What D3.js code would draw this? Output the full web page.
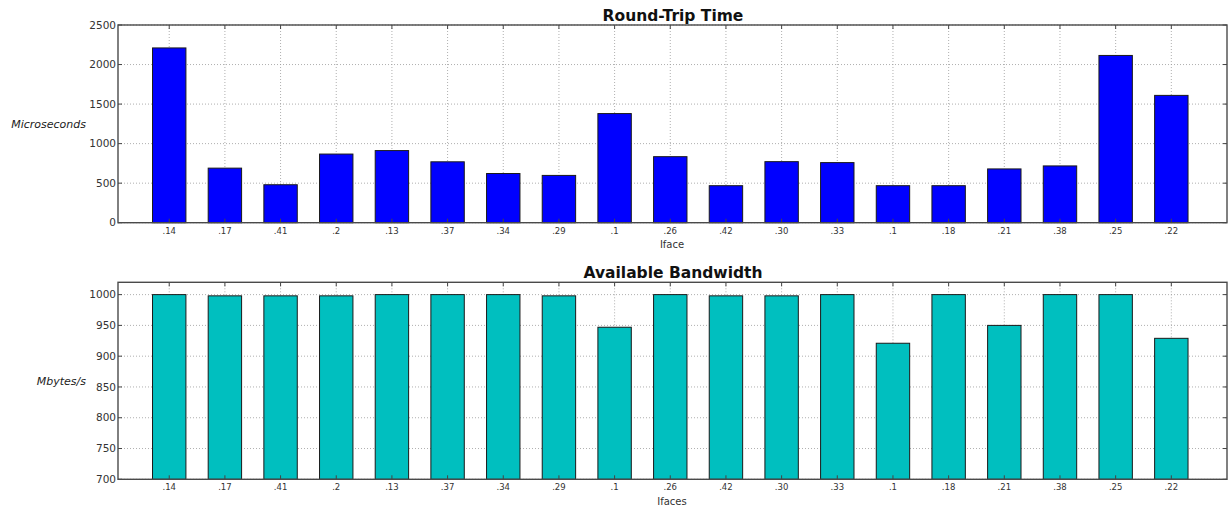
<!DOCTYPE html>
<html>
<head>
<meta charset="utf-8">
<script src="https://cdn.jsdelivr.net/npm/d3@7"></script>
<style>
  html, body { margin: 0; padding: 0; background: #fff; }
  svg { display: block; font-family: "DejaVu Sans", sans-serif; }
</style>
</head>
<body>
<svg id="chart" width="1229" height="508"></svg>
<script>
// Interface labels shared by both panels
const ifaces = [".14", ".17", ".41", ".2", ".13", ".37", ".34", ".29", ".1", ".26",
                ".42", ".30", ".33", ".1", ".18", ".21", ".38", ".25", ".22"];

// Round-trip time per interface (microseconds)
const rttValues = [2210, 690, 480, 868, 912, 770, 622, 598, 1380, 835,
                   468, 772, 760, 468, 468, 680, 718, 2115, 1610];

// Available bandwidth per interface (Mbytes/s)
const bwValues = [1000, 998, 998, 998, 1000, 1000, 1000, 998, 947, 1000,
                  998, 998, 1000, 921, 1000, 950, 1000, 1000, 929];

const rttTicks = [0, 500, 1000, 1500, 2000, 2500];
const bwTicks = [700, 750, 800, 850, 900, 950, 1000];

const svg = d3.select("#chart");

const left = 118, right = 1227;
const x = d3.scaleLinear().domain([-0.92, 19.0]).range([left, right]);
const barW = x(0.6) - x(0);

function panel(cfg) {
  const y = d3.scaleLinear().domain(cfg.domain).range([cfg.bottom, cfg.top]);
  const g = svg.append("g");
  const idx = d3.range(cfg.values.length);

  // dotted grid
  g.append("g").selectAll("line.vg").data(idx).join("line")
    .attr("x1", i => x(i)).attr("x2", i => x(i))
    .attr("y1", cfg.top).attr("y2", cfg.bottom)
    .attr("stroke", "#9a9a9a").attr("stroke-width", 0.8)
    .attr("stroke-dasharray", "1,2");
  g.append("g").selectAll("line.hg").data(cfg.ticks).join("line")
    .attr("x1", left).attr("x2", right)
    .attr("y1", d => y(d)).attr("y2", d => y(d))
    .attr("stroke", "#9a9a9a").attr("stroke-width", 0.8)
    .attr("stroke-dasharray", "1,2");

  // bars
  g.append("g").selectAll("rect").data(cfg.values).join("rect")
    .attr("x", (d, i) => x(i) - barW / 2)
    .attr("width", barW)
    .attr("y", d => y(d))
    .attr("height", d => cfg.bottom - y(d))
    .attr("fill", cfg.color)
    .attr("stroke", "#1a1a1a").attr("stroke-width", 1);

  // inward tick marks on all four sides
  const tl = 4;
  const tk = g.append("g").attr("stroke", "#444").attr("stroke-width", 1);
  idx.forEach(i => {
    tk.append("line").attr("x1", x(i)).attr("x2", x(i)).attr("y1", cfg.bottom).attr("y2", cfg.bottom - tl);
    tk.append("line").attr("x1", x(i)).attr("x2", x(i)).attr("y1", cfg.top).attr("y2", cfg.top + tl);
  });
  cfg.ticks.forEach(t => {
    tk.append("line").attr("x1", left).attr("x2", left + tl).attr("y1", y(t)).attr("y2", y(t));
    tk.append("line").attr("x1", right).attr("x2", right - tl).attr("y1", y(t)).attr("y2", y(t));
  });

  // frame
  g.append("rect")
    .attr("x", left).attr("y", cfg.top)
    .attr("width", right - left).attr("height", cfg.bottom - cfg.top)
    .attr("fill", "none").attr("stroke", "#4a4a4a").attr("stroke-width", 1.4);

  // tick labels
  g.append("g").selectAll("text").data(idx).join("text")
    .attr("x", i => x(i)).attr("y", cfg.bottom + 11)
    .attr("text-anchor", "middle")
    .attr("font-size", 8.5).attr("fill", "#333")
    .text(i => ifaces[i]);
  g.append("g").selectAll("text").data(cfg.ticks).join("text")
    .attr("x", left - 2).attr("y", d => y(d))
    .attr("dy", "0.35em")
    .attr("text-anchor", "end")
    .attr("font-size", 10.5).attr("fill", "#333")
    .text(d => d);

  // title, axis labels
  g.append("text")
    .attr("x", 673).attr("y", cfg.top - 4.5)
    .attr("text-anchor", "middle")
    .attr("font-size", 15.5).attr("font-weight", "bold").attr("fill", "#111")
    .text(cfg.title);
  g.append("text")
    .attr("x", 672).attr("y", cfg.bottom + 25.5)
    .attr("text-anchor", "middle")
    .attr("font-size", 10).attr("fill", "#333")
    .text(cfg.xlabel);
  g.append("text")
    .attr("x", 86).attr("y", (cfg.top + cfg.bottom) / 2)
    .attr("dy", "0.35em")
    .attr("text-anchor", "end")
    .attr("font-size", 11).attr("font-style", "italic").attr("fill", "#222")
    .text(cfg.ylabel);
}

panel({
  values: rttValues, ticks: rttTicks, domain: [0, 2500],
  top: 25, bottom: 222.7, color: "#0000ff",
  title: "Round-Trip Time", xlabel: "Iface", ylabel: "Microseconds"
});

panel({
  values: bwValues, ticks: bwTicks, domain: [700, 1020],
  top: 282.3, bottom: 479.3, color: "#00bfbf",
  title: "Available Bandwidth", xlabel: "Ifaces", ylabel: "Mbytes/s"
});
</script>
</body>
</html>
